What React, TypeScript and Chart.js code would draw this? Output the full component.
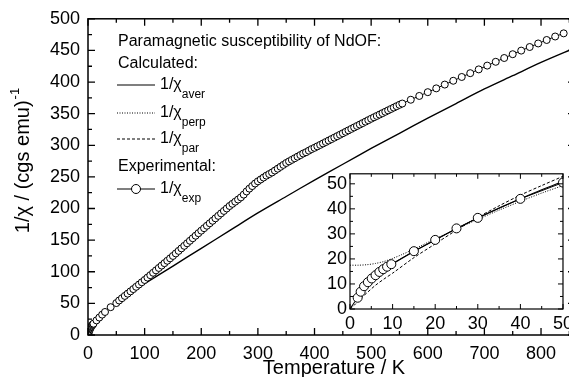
import React, { useEffect, useRef } from "react";
import { Chart, registerables } from "chart.js";
Chart.register(...registerables);

const FONT = "'Liberation Sans', Arial, Helvetica, sans-serif";

// ---------- main chart data ----------
const mainExpT = [
  1.8, 2.5, 3.3, 4.2, 5.1, 6, 6.9, 7.8, 8.7, 9.7, 15, 20, 25, 30, 40, 50,
  55, 60, 65, 70, 75, 80, 85, 90, 95, 100,
  105, 110, 115, 120, 125, 130, 135, 140, 145, 150,
  155, 160, 165, 170, 175, 180, 185, 190, 195, 200,
  205, 210, 215, 220, 225, 230, 235, 240, 245, 250,
  255, 260, 265, 270, 275, 280, 285, 290, 295, 300,
  305, 310, 315, 320, 325, 330, 335, 340, 345, 350,
  355, 360, 365, 370, 375, 380, 385, 390, 395, 400,
  405, 410, 415, 420, 425, 430, 435, 440, 445, 450,
  455, 460, 465, 470, 475, 480, 485, 490, 495, 500,
  505, 510, 515, 520, 525, 530, 535, 540, 545, 550, 555,
  570, 585, 600, 615, 630, 645, 660, 675, 690, 705, 720, 735, 750, 765, 780, 795, 810, 825, 840,
];
const mainExpV = [
  4.5, 6.9, 9.1, 10.7, 12.2, 13.5, 14.8, 15.9, 16.9, 17.9, 23.1, 27.6, 32.2, 36.4, 44, 50.5,
  54.6, 58.2, 61.8, 65.4, 69, 72.6, 76.2, 79.8, 83.4, 87,
  90.8, 94.6, 98.4, 102.2, 106, 109.8, 113.6, 117.4, 121.2, 125,
  129, 133, 137, 141, 145, 149, 153, 157, 161, 165,
  168.9, 172.8, 176.7, 180.6, 184.5, 188.4, 192.3, 196.2, 200.1, 204,
  207.4, 210.8, 214.2, 217.6, 222, 227, 231.5, 235.5, 239.5, 243,
  246, 249, 252, 254.5, 257, 260, 263, 266, 269, 272,
  274.5, 277, 279.5, 282, 284.5, 287, 289, 291.5, 294, 296,
  298.3, 300.6, 302.9, 305.2, 307.5, 309.8, 312.1, 314.4, 316.7, 319,
  321.3, 323.6, 325.9, 328.2, 330.5, 332.8, 335.1, 337.4, 339.7, 342,
  344.2, 346.4, 348.6, 350.8, 353, 355.2, 357.4, 359.6, 361.8, 364, 366,
  372, 378, 384, 390, 396, 402, 408, 414, 420, 426, 432, 438, 444, 449.7, 455.4, 461, 466.5, 472, 477,
];
const mainAverT = [0, 10, 25, 50, 75, 100, 150, 200, 250, 300, 350, 400, 450, 500, 550, 600, 650, 700, 750, 800, 860];
const mainAverV = [0, 18, 33, 52, 67, 81, 109, 137, 165, 193, 219, 245, 270, 295, 319, 343, 366, 389, 410, 431, 454];

// ---------- inset data ----------
const insetExpT = [1.8, 2.5, 3.3, 4.2, 5.1, 6, 6.9, 7.8, 8.7, 9.7, 15, 20, 25, 30, 40, 50];
const insetExpV = [4.5, 6.9, 9.1, 10.7, 12.2, 13.5, 14.8, 15.9, 16.9, 17.9, 23.1, 27.6, 32.2, 36.4, 44, 50.5];
const insetAverT = [0, 2, 4, 6, 8, 10, 15, 20, 25, 30, 35, 40, 45, 50];
const insetAverV = [0, 5, 9, 12.5, 15.5, 18, 23, 27.6, 32, 36.3, 40.3, 44, 47.6, 51];
const insetPerpT = [0, 2, 4, 6, 8, 10, 12, 15, 20, 25, 30, 35, 40, 45, 50];
const insetPerpV = [17.5, 17.5, 17.7, 18.2, 19, 20.2, 21.6, 23.9, 28, 32, 35.8, 39.5, 43, 46.3, 49.3];
const insetParT = [0, 1, 2, 4, 6, 8, 10, 15, 20, 25, 30, 35, 40, 45, 50];
const insetParV = [0, 1.5, 3.3, 6.5, 9.5, 12, 14.3, 20.5, 26, 31.5, 36.6, 41.2, 45.5, 49.3, 53];

// ---------- axis / legend text ----------
const xTitle = "Temperature / K";
const yTitleMain = "1/\u03C7 / (cgs emu)";
const yTitleSup = "-1";
const legendTitle = "Paramagnetic susceptibility of NdOF:";
const legendCalc = "Calculated:";
const legendExp = "Experimental:";
const legendSubs = ["aver", "perp", "par", "exp"];

const toXY = (xs: number[], ys: number[]) => xs.map((x, i) => ({ x, y: ys[i] }));

function drawFrame(chart: any, o: any) {
  const { ctx, chartArea: a, scales } = chart;
  ctx.save();
  ctx.strokeStyle = "#000";
  ctx.lineWidth = o.lw;
  ctx.strokeRect(a.left, a.top, a.right - a.left, a.bottom - a.top);
  ctx.lineWidth = o.tw;
  ctx.beginPath();
  const xs = scales.x;
  const ys = scales.y;
  xs.ticks.forEach((t: any) => {
    const px = xs.getPixelForValue(t.value);
    const L = Math.abs(t.value % o.xMajor) < 1e-6 ? o.major : o.minor;
    ctx.moveTo(px, a.bottom);
    ctx.lineTo(px, a.bottom - L);
    ctx.moveTo(px, a.top);
    ctx.lineTo(px, a.top + L);
  });
  ys.ticks.forEach((t: any) => {
    const py = ys.getPixelForValue(t.value);
    const L = Math.abs(t.value % o.yMajor) < 1e-6 ? o.major : o.minor;
    ctx.moveTo(a.left, py);
    ctx.lineTo(a.left + L, py);
    ctx.moveTo(a.right, py);
    ctx.lineTo(a.right - L, py);
  });
  ctx.stroke();
  ctx.restore();
}

function drawChiLabel(ctx: any, x: number, y: number, sub: string) {
  ctx.font = `16px ${FONT}`;
  ctx.textAlign = "left";
  ctx.textBaseline = "middle";
  ctx.fillText("1/\u03C7", x, y);
  const w = ctx.measureText("1/\u03C7").width;
  ctx.font = `12px ${FONT}`;
  ctx.fillText(sub, x + w, y + 10);
}

const mainPlugin = {
  id: "mainDeco",
  afterDraw(chart: any) {
    drawFrame(chart, { lw: 1.5, tw: 1.3, major: 7, minor: 4, xMajor: 100, yMajor: 50 });
    const ctx = chart.ctx;
    ctx.save();
    ctx.fillStyle = "#000";
    ctx.strokeStyle = "#000";
    // legend
    ctx.font = `16px ${FONT}`;
    ctx.textAlign = "left";
    ctx.textBaseline = "middle";
    ctx.fillText(legendTitle, 118, 42);
    ctx.fillText(legendCalc, 118, 64);
    ctx.fillText(legendExp, 118, 167);
    const rows = [85, 113, 139, 189];
    const dashes = [[], [1, 1.5], [3, 2], []];
    rows.forEach((ry, i) => {
      ctx.save();
      ctx.lineWidth = 1.1;
      ctx.setLineDash(dashes[i]);
      ctx.beginPath();
      ctx.moveTo(117, ry);
      ctx.lineTo(155, ry);
      ctx.stroke();
      ctx.restore();
      if (i === 3) {
        ctx.beginPath();
        ctx.arc(136, ry, 4.5, 0, Math.PI * 2);
        ctx.fillStyle = "#fff";
        ctx.fill();
        ctx.lineWidth = 1;
        ctx.stroke();
        ctx.fillStyle = "#000";
      }
      drawChiLabel(ctx, 160, ry, legendSubs[i]);
    });
    // x title
    ctx.font = `20px ${FONT}`;
    ctx.textAlign = "center";
    ctx.textBaseline = "middle";
    ctx.fillText(xTitle, 334, 368);
    // y title (rotated)
    ctx.save();
    ctx.translate(23, 161);
    ctx.rotate(-Math.PI / 2);
    ctx.font = `20px ${FONT}`;
    const w1 = ctx.measureText(yTitleMain).width;
    ctx.font = `13px ${FONT}`;
    const w2 = ctx.measureText(yTitleSup).width;
    const start = -(w1 + w2) / 2;
    ctx.textAlign = "left";
    ctx.font = `20px ${FONT}`;
    ctx.fillText(yTitleMain, start, 0);
    ctx.font = `13px ${FONT}`;
    ctx.fillText(yTitleSup, start + w1 + 1, -8);
    ctx.restore();
    ctx.restore();
  },
};

const insetPlugin = {
  id: "insetDeco",
  beforeDraw(chart: any) {
    const { ctx, chartArea: a } = chart;
    ctx.save();
    ctx.fillStyle = "#fff";
    ctx.fillRect(a.left, a.top, a.right - a.left, a.bottom - a.top);
    ctx.restore();
  },
  afterDraw(chart: any) {
    drawFrame(chart, { lw: 1.2, tw: 1, major: 5, minor: 3, xMajor: 10, yMajor: 10 });
  },
};

const tickFont = { family: FONT, size: 18 };

export default function App() {
  const mainRef = useRef<HTMLCanvasElement>(null);
  const insetRef = useRef<HTMLCanvasElement>(null);

  useEffect(() => {
    const main = new Chart(mainRef.current as HTMLCanvasElement, {
      type: "scatter",
      data: {
        datasets: [
          {
            data: toXY(mainExpT, mainExpV),
            showLine: true,
            borderColor: "#000",
            borderWidth: 1,
            pointRadius: 3.5,
            pointBackgroundColor: "#fff",
            pointBorderColor: "#000",
            pointBorderWidth: 1,
          },
          {
            data: toXY(mainAverT, mainAverV),
            showLine: true,
            borderColor: "#000",
            borderWidth: 1.4,
            pointRadius: 0,
            tension: 0.3,
          },
        ],
      },
      options: {
        animation: false,
        responsive: false,
        events: [],
        layout: { padding: { top: 15, right: 0, left: 0, bottom: 0 } },
        plugins: { legend: { display: false }, tooltip: { enabled: false } },
        scales: {
          x: {
            type: "linear",
            min: 0,
            max: 860,
            grid: { display: false, drawTicks: false },
            border: { display: false },
            ticks: {
              stepSize: 50,
              includeBounds: false,
              autoSkip: false,
              maxRotation: 0,
              padding: 8,
              color: "#000",
              font: tickFont,
              callback: (v: any) => (v % 100 === 0 ? String(v) : ""),
            },
            afterFit: (s: any) => {
              s.height = 50;
            },
          },
          y: {
            type: "linear",
            min: 0,
            max: 500,
            grid: { display: false, drawTicks: false },
            border: { display: false },
            ticks: {
              stepSize: 25,
              includeBounds: false,
              autoSkip: false,
              padding: 8,
              color: "#000",
              font: tickFont,
              callback: (v: any) => (v % 50 === 0 ? String(v) : ""),
            },
            afterFit: (s: any) => {
              s.width = 88;
            },
          },
        },
      },
      plugins: [mainPlugin],
    } as any);

    const inset = new Chart(insetRef.current as HTMLCanvasElement, {
      type: "scatter",
      data: {
        datasets: [
          {
            data: toXY(insetExpT, insetExpV),
            showLine: true,
            borderColor: "#000",
            borderWidth: 1,
            pointRadius: 4.5,
            pointBackgroundColor: "#fff",
            pointBorderColor: "#000",
            pointBorderWidth: 1,
          },
          {
            data: toXY(insetAverT, insetAverV),
            showLine: true,
            borderColor: "#000",
            borderWidth: 1.1,
            pointRadius: 0,
            tension: 0.3,
          },
          {
            data: toXY(insetPerpT, insetPerpV),
            showLine: true,
            borderColor: "#000",
            borderWidth: 1,
            borderDash: [1, 1.5],
            pointRadius: 0,
            tension: 0.3,
          },
          {
            data: toXY(insetParT, insetParV),
            showLine: true,
            borderColor: "#000",
            borderWidth: 1,
            borderDash: [3, 2],
            pointRadius: 0,
            tension: 0.3,
          },
        ],
      },
      options: {
        animation: false,
        responsive: false,
        events: [],
        layout: { padding: { top: 6, right: 8, left: 0, bottom: 0 } },
        plugins: { legend: { display: false }, tooltip: { enabled: false } },
        scales: {
          x: {
            type: "linear",
            min: 0,
            max: 50,
            grid: { display: false, drawTicks: false },
            border: { display: false },
            ticks: {
              stepSize: 5,
              includeBounds: false,
              autoSkip: false,
              maxRotation: 0,
              padding: 4,
              color: "#000",
              font: tickFont,
              callback: (v: any) => (v % 10 === 0 ? String(v) : ""),
            },
            afterFit: (s: any) => {
              s.height = 27;
            },
          },
          y: {
            type: "linear",
            min: 0,
            max: 54,
            grid: { display: false, drawTicks: false },
            border: { display: false },
            ticks: {
              stepSize: 5,
              includeBounds: false,
              autoSkip: false,
              padding: 3,
              color: "#000",
              font: tickFont,
              callback: (v: any) => (v % 10 === 0 ? String(v) : ""),
            },
            afterFit: (s: any) => {
              s.width = 28;
            },
          },
        },
      },
      plugins: [insetPlugin],
    } as any);

    return () => {
      main.destroy();
      inset.destroy();
    };
  }, []);

  return (
    <div
      style={{
        position: "relative",
        width: 577,
        height: 385,
        overflow: "hidden",
        margin: -8,
        background: "#fff",
      }}
    >
      <canvas ref={mainRef} width={580} height={385} style={{ position: "absolute", left: 0, top: 0 }} />
      <canvas ref={insetRef} width={255} height={176} style={{ position: "absolute", left: 322, top: 160 }} />
    </div>
  );
}
